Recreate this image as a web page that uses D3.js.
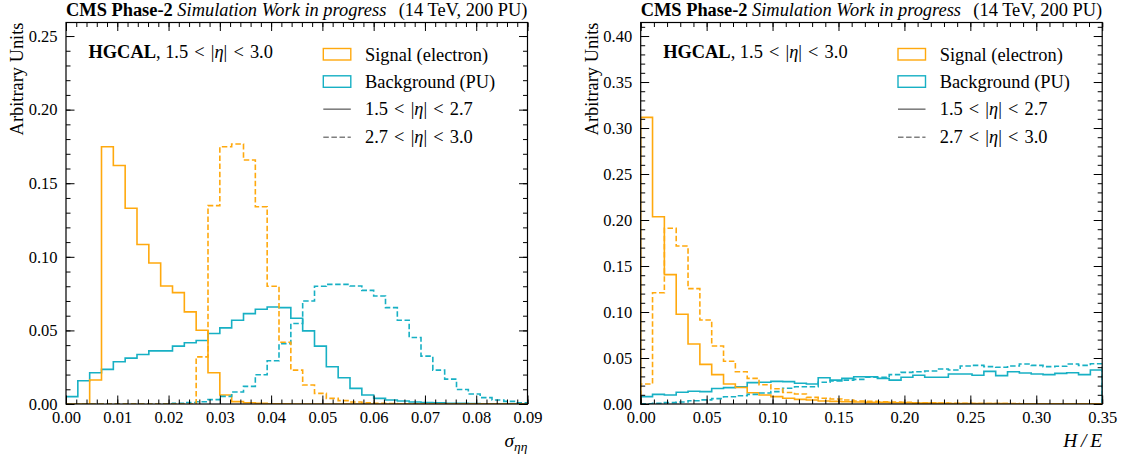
<!DOCTYPE html>
<html>
<head>
<meta charset="utf-8">
<script src="https://cdn.jsdelivr.net/npm/d3@7"></script>
<style>
  html, body { margin: 0; padding: 0; background: #fff; }
  svg, svg text { font-family: "Liberation Serif", "DejaVu Serif", serif; }
</style>
</head>
<body>
<svg id="chart" width="1123" height="457"></svg>
<script>
// ---------------- DATA ----------------
// Left panel: sigma_eta_eta, 39 bins from 0 to 0.09
const sieieEdges = [0, 0.09];
const sieieNBins = 39;
const sieieSignalEta1 = [0, 0, 0.0163, 0.1748, 0.162, 0.133, 0.1084, 0.0958, 0.0802, 0.0757, 0.0626, 0.0501, 0.0212, 0.0061, 0.0016, 0.0008, 0.0004, 0.0002, 0.0001, 0, 0, 0, 0, 0, 0, 0, 0, 0, 0, 0, 0, 0, 0, 0, 0, 0, 0, 0, 0];
const sieieSignalEta2 = [0, 0, 0, 0, 0, 0, 0, 0, 0, 0, 0, 0.032, 0.1348, 0.1748, 0.1766, 0.1658, 0.134, 0.080, 0.042, 0.023, 0.0129, 0.0072, 0.0038, 0.0023, 0.0014, 0.0008, 0.0005, 0.0003, 0.0002, 0.0001, 0, 0, 0, 0, 0, 0, 0, 0, 0];
const sieieBkgEta1 = [0.005, 0.0158, 0.0212, 0.0235, 0.0287, 0.0312, 0.0336, 0.0361, 0.0361, 0.0393, 0.0416, 0.0431, 0.0479, 0.0517, 0.0569, 0.0614, 0.0644, 0.0659, 0.0655, 0.0583, 0.0497, 0.0393, 0.0253, 0.0178, 0.0106, 0.0061, 0.0038, 0.0027, 0.002, 0.0014, 0.001, 0.0008, 0.0005, 0.0004, 0.0003, 0.0002, 0.0002, 0.0001, 0.0001];
const sieieBkgEta2 = [0, 0, 0, 0, 0, 0, 0, 0, 0.0002, 0.0005, 0.001, 0.0015, 0.003, 0.0052, 0.0082, 0.012, 0.0199, 0.0294, 0.041, 0.0547, 0.070, 0.080, 0.0813, 0.0813, 0.0802, 0.0772, 0.0734, 0.0655, 0.0569, 0.0452, 0.0325, 0.023, 0.0169, 0.0099, 0.0068, 0.0043, 0.0027, 0.0018, 0.0009];
const sieieXTicks = [0, 0.01, 0.02, 0.03, 0.04, 0.05, 0.06, 0.07, 0.08, 0.09];
const sieieYTicks = [0, 0.05, 0.10, 0.15, 0.20, 0.25];
const sieieYMax = 0.2592;

// Right panel: H/E, 39 bins from 0 to 0.35
const hoeEdges = [0, 0.35];
const hoeNBins = 39;
const hoeSignalEta1 = [0.3116, 0.2036, 0.1406, 0.0975, 0.0652, 0.0431, 0.0319, 0.0217, 0.0180, 0.0122, 0.0098, 0.0080, 0.0062, 0.0050, 0.0043, 0.0033, 0.0029, 0.0025, 0.0022, 0.0018, 0.0018, 0.0014, 0.0013, 0.0010, 0.0010, 0.0007, 0.0006, 0.0005, 0.0005, 0.0004, 0.0004, 0.0003, 0.0003, 0.0003, 0.0002, 0.0002, 0.0002, 0.0002, 0.0001];
const hoeSignalEta2 = [0.0217, 0.121, 0.191, 0.1717, 0.1254, 0.0913, 0.063, 0.0464, 0.0351, 0.0279, 0.0210, 0.0165, 0.0125, 0.0109, 0.0072, 0.0062, 0.0054, 0.0043, 0.0033, 0.0029, 0.0025, 0.0022, 0.0018, 0.0014, 0.0014, 0.0010, 0.0008, 0.0007, 0.0006, 0.0005, 0.0004, 0.0004, 0.0003, 0.0003, 0.0003, 0.0002, 0.0002, 0.0002, 0.0002];
const hoeBkgEta1 = [0.008, 0.0105, 0.0098, 0.0128, 0.0138, 0.0134, 0.0168, 0.0178, 0.0186, 0.0232, 0.0236, 0.0246, 0.0243, 0.0225, 0.0217, 0.0286, 0.026, 0.0279, 0.0297, 0.0297, 0.0279, 0.026, 0.029, 0.0312, 0.029, 0.029, 0.0326, 0.0326, 0.0312, 0.0355, 0.0308, 0.0351, 0.0337, 0.0326, 0.0319, 0.0333, 0.034, 0.0319, 0.037];
const hoeBkgEta2 = [0.0003, 0.0008, 0.0015, 0.0022, 0.0035, 0.0045, 0.0058, 0.0078, 0.009, 0.0105, 0.0120, 0.0135, 0.0172, 0.0188, 0.0188, 0.0236, 0.025, 0.026, 0.0268, 0.029, 0.029, 0.0319, 0.0344, 0.0351, 0.0359, 0.038, 0.037, 0.0413, 0.042, 0.0406, 0.0399, 0.0413, 0.0435, 0.042, 0.0406, 0.041, 0.0435, 0.042, 0.0438];
const hoeXTicks = [0, 0.05, 0.10, 0.15, 0.20, 0.25, 0.30, 0.35];
const hoeYTicks = [0, 0.05, 0.10, 0.15, 0.20, 0.25, 0.30, 0.35, 0.40];
const hoeYMax = 0.4147;

const legendLabels = ["Signal (electron)", "Background (PU)"];
const titleBold = "CMS Phase-2";
const titleItalic = "Simulation Work in progress";
const titleRight = "(14 TeV, 200 PU)";

// ---------------- STYLE ----------------
const COL_SIG = "#ffa90e";
const COL_BKG = "#17b0c4";
const FS = 18.4;      // text size
const FS_TICK = 16.5; // tick label size
const SP = "\u2004";  // math spacing around relations

const svg = d3.select("#chart");

function drawPanel(cfg) {
  const L = cfg.left, R = cfg.left + 461.5, T = 22.5, B = 404;
  const x = d3.scaleLinear().domain(cfg.edges).range([L, R]);
  const y = d3.scaleLinear().domain([0, cfg.ymax]).range([B, T]);
  const g = svg.append("g");

  const clipId = "clip" + cfg.id;
  svg.append("clipPath").attr("id", clipId)
    .append("rect").attr("x", L).attr("y", T).attr("width", R - L).attr("height", B - T);

  const binW = (cfg.edges[1] - cfg.edges[0]) / cfg.nbins;
  function histPath(vals) {
    let d = "M" + x(cfg.edges[0]) + "," + y(0);
    vals.forEach((v, i) => {
      const x0 = x(cfg.edges[0] + i * binW), x1 = x(cfg.edges[0] + (i + 1) * binW);
      d += "L" + x0 + "," + y(v) + "L" + x1 + "," + y(v);
    });
    d += "L" + x(cfg.edges[0] + vals.length * binW) + "," + y(0);
    return d;
  }
  const series = [
    { vals: cfg.bkg1, col: COL_BKG, dash: null },
    { vals: cfg.sig1, col: COL_SIG, dash: null },
    { vals: cfg.bkg2, col: COL_BKG, dash: "5.5,2.6" },
    { vals: cfg.sig2, col: COL_SIG, dash: "5.5,2.6" }
  ];
  const hg = g.append("g").attr("clip-path", `url(#${clipId})`);
  series.forEach(s => {
    hg.append("path").attr("d", histPath(s.vals))
      .attr("fill", "none").attr("stroke", s.col).attr("stroke-width", 1.6)
      .attr("stroke-dasharray", s.dash).attr("stroke-linejoin", "miter");
  });

  // axes (inward ticks on all sides)
  const xMinor = d3.range(0, Math.round(cfg.edges[1] / cfg.xMinorStep) + 1).map(i => i * cfg.xMinorStep);
  const yMinor = d3.range(0, Math.floor(cfg.ymax / 0.01 + 1e-6) + 1).map(i => i * 0.01);
  const fmt = d3.format(".2f");

  function styleAxis(sel) {
    sel.attr("font-family", "Liberation Serif");
    sel.select(".domain").remove();
    sel.selectAll(".tick line").attr("stroke", "#000").attr("stroke-width", 1);
    sel.selectAll(".tick text").attr("font-size", FS_TICK).attr("font-family", "Liberation Serif").attr("fill", "#000");
  }
  // bottom
  g.append("g").attr("transform", `translate(0,${B})`)
    .call(d3.axisBottom(x).tickValues(xMinor).tickSize(-4.5).tickFormat("")).call(styleAxis);
  g.append("g").attr("transform", `translate(0,${B})`)
    .call(d3.axisBottom(x).tickValues(cfg.xTicks).tickSize(-8.5).tickPadding(18.5).tickFormat(fmt)).call(styleAxis)
    .selectAll(".tick text").attr("dy", "0");
  // top
  g.append("g").attr("transform", `translate(0,${T})`)
    .call(d3.axisTop(x).tickValues(xMinor).tickSize(-4.5).tickFormat("")).call(styleAxis);
  g.append("g").attr("transform", `translate(0,${T})`)
    .call(d3.axisTop(x).tickValues(cfg.xTicks).tickSize(-8.5).tickFormat("")).call(styleAxis);
  // left
  g.append("g").attr("transform", `translate(${L},0)`)
    .call(d3.axisLeft(y).tickValues(yMinor).tickSize(-4.5).tickFormat("")).call(styleAxis);
  g.append("g").attr("transform", `translate(${L},0)`)
    .call(d3.axisLeft(y).tickValues(cfg.yTicks).tickSize(-8.5).tickPadding(8.5).tickFormat(fmt)).call(styleAxis);
  // right
  g.append("g").attr("transform", `translate(${R},0)`)
    .call(d3.axisRight(y).tickValues(yMinor).tickSize(-4.5).tickFormat("")).call(styleAxis);
  g.append("g").attr("transform", `translate(${R},0)`)
    .call(d3.axisRight(y).tickValues(cfg.yTicks).tickSize(-8.5).tickFormat("")).call(styleAxis);

  // frame
  g.append("rect").attr("x", L).attr("y", T).attr("width", R - L).attr("height", B - T)
    .attr("fill", "none").attr("stroke", "#000").attr("stroke-width", 1.2);

  // title
  const t = g.append("text").attr("x", L).attr("y", 16).attr("font-size", FS).attr("fill", "#000");
  t.append("tspan").attr("font-weight", "bold").text(titleBold);
  t.append("tspan").attr("font-style", "italic").text(" " + titleItalic);
  g.append("text").attr("x", R).attr("y", 16).attr("text-anchor", "end").attr("font-size", FS).text(titleRight);

  // y label
  g.append("text").attr("transform", `translate(${L - 43},${T}) rotate(-90)`)
    .attr("text-anchor", "end").attr("font-size", FS).text("Arbitrary Units");

  // x label
  const xl = g.append("text").attr("x", R).attr("y", 447).attr("text-anchor", "end").attr("font-size", FS + 1);
  if (cfg.id === "L") {
    xl.append("tspan").attr("font-style", "italic").text("σ");
    xl.append("tspan").attr("font-style", "italic").attr("font-size", 13.5).attr("dy", 4).text("ηη");
  } else {
    xl.append("tspan").attr("font-style", "italic").text("H\u2009/\u2009E");
  }

  // HGCAL label
  const hl = g.append("text").attr("x", L + 22.5).attr("y", 57.5).attr("font-size", FS);
  hl.append("tspan").attr("font-weight", "bold").text("HGCAL");
  hl.append("tspan").text(", 1.5" + SP + "<" + SP + "|");
  hl.append("tspan").attr("font-style", "italic").text("η");
  hl.append("tspan").text("|" + SP + "<" + SP + "3.0");

  // legend
  const lx = L + 257.3, tx = L + 299;
  const lg = g.append("g");
  [[COL_SIG, 0], [COL_BKG, 1]].forEach(([c, i]) => {
    lg.append("rect").attr("x", lx).attr("y", 48.5 + i * 27.3).attr("width", 27.5).attr("height", 11.5)
      .attr("fill", "none").attr("stroke", c).attr("stroke-width", 1.4);
    lg.append("text").attr("x", tx).attr("y", 60.8 + i * 27.0).attr("font-size", FS).text(legendLabels[i]);
  });
  [[null, 0, "1.5", "2.7"], ["5.5,2.6", 1, "2.7", "3.0"]].forEach(([dash, i, a, b]) => {
    const yy = 109.2 + i * 28;
    lg.append("line").attr("x1", lx).attr("x2", lx + 27.5).attr("y1", yy).attr("y2", yy)
      .attr("stroke", "#7f7f7f").attr("stroke-width", 1.6).attr("stroke-dasharray", dash);
    const tt = lg.append("text").attr("x", tx).attr("y", yy + 5.8).attr("font-size", FS);
    tt.append("tspan").text(a + SP + "<" + SP + "|");
    tt.append("tspan").attr("font-style", "italic").text("η");
    tt.append("tspan").text("|" + SP + "<" + SP + b);
  });
}

drawPanel({ id: "L", left: 66, edges: sieieEdges, nbins: sieieNBins, ymax: sieieYMax,
  sig1: sieieSignalEta1, sig2: sieieSignalEta2, bkg1: sieieBkgEta1, bkg2: sieieBkgEta2,
  xTicks: sieieXTicks, yTicks: sieieYTicks, xMinorStep: 0.002 });
drawPanel({ id: "R", left: 640.7, edges: hoeEdges, nbins: hoeNBins, ymax: hoeYMax,
  sig1: hoeSignalEta1, sig2: hoeSignalEta2, bkg1: hoeBkgEta1, bkg2: hoeBkgEta2,
  xTicks: hoeXTicks, yTicks: hoeYTicks, xMinorStep: 0.01 });
</script>
</body>
</html>
